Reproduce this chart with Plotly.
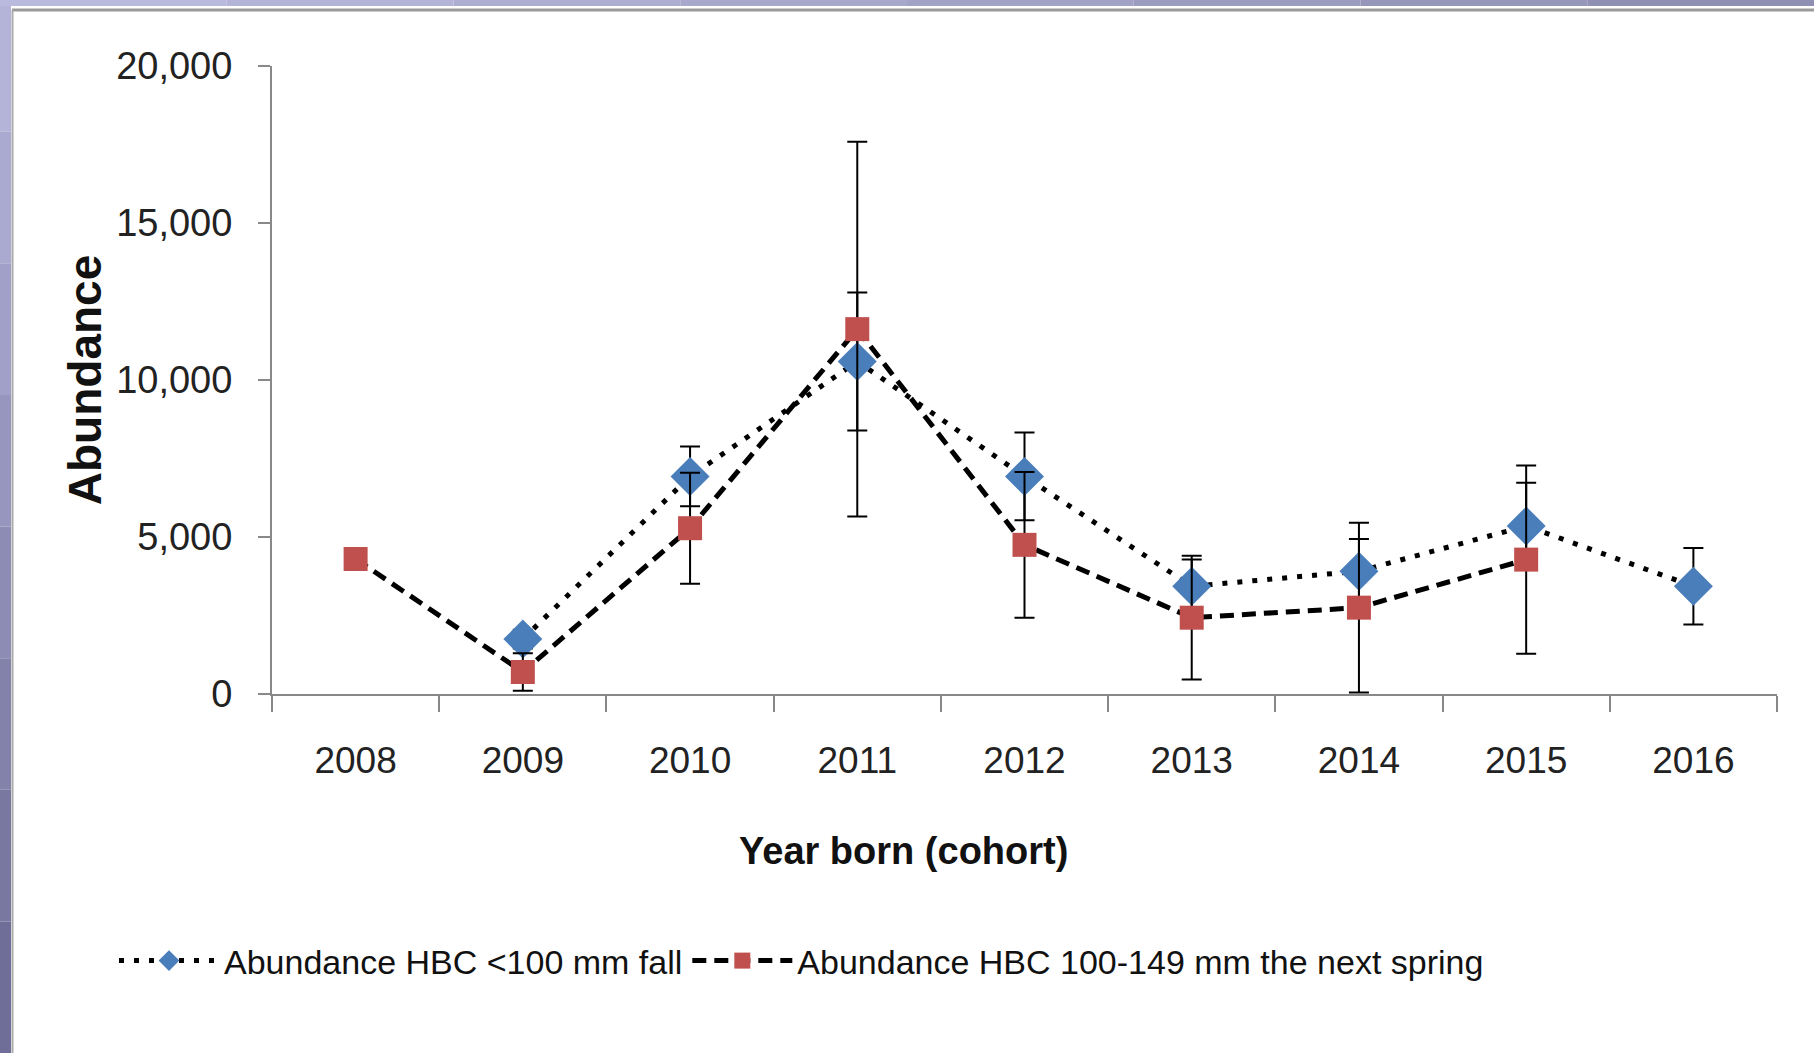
import plotly.graph_objects as go

# ---- data ----
years = ["2008", "2009", "2010", "2011", "2012", "2013", "2014", "2015", "2016"]

fall_years = ["2009", "2010", "2011", "2012", "2013", "2014", "2015", "2016"]
fall_values = [1750, 6930, 10590, 6930, 3430, 3910, 5350, 3430]
fall_errors = [300, 950, 2200, 1400, 850, 1030, 1380, 1220]

spring_years = ["2008", "2009", "2010", "2011", "2012", "2013", "2014", "2015"]
spring_values = [4300, 700, 5280, 11620, 4750, 2430, 2750, 4280]
spring_errors = [0, 600, 1770, 5970, 2320, 1970, 2700, 3000]

y_ticks = [0, 5000, 10000, 15000, 20000]

fall_name = "Abundance HBC <100 mm fall"
spring_name = "Abundance HBC 100-149 mm the next spring"
x_title = "Year born (cohort)"
y_title = "Abundance"

# ---- layout geometry ----
W, H = 1814, 1053
L, R, T, B = 272, 37, 66, 359
PW, PH = W - L - R, H - T - B

def px2x(px):
    return (px - L) / PW

def px2y(py):
    return (H - B - py) / PH

FONT = "Liberation Sans, Arial, sans-serif"

fig = go.Figure()

fig.add_trace(go.Scatter(
    x=fall_years, y=fall_values, name=fall_name, mode="lines+markers",
    line=dict(color="black", width=5, dash="5px,10px"),
    marker=dict(symbol="diamond", size=30, color="#4a7ebb"),
    error_y=dict(type="data", array=fall_errors, visible=True,
                 color="black", thickness=2, width=10),
))
fig.add_trace(go.Scatter(
    x=spring_years, y=spring_values, name=spring_name, mode="lines+markers",
    line=dict(color="black", width=5, dash="14px,8px"),
    marker=dict(symbol="square", size=24, color="#c0504d"),
    error_y=dict(type="data", array=spring_errors, visible=True,
                 color="black", thickness=2, width=10),
))

# decorative slide frame
shapes = []
left_cols = ["#b4b4d8", "#aaaad0", "#a0a0c8", "#9696be", "#8c8cb4", "#8282aa", "#7878a0", "#6e6e98"]
n = len(left_cols)
for i, c in enumerate(left_cols):
    y0 = i * H / n
    y1 = (i + 1) * H / n
    shapes.append(dict(type="rect", xref="paper", yref="paper", layer="below",
                       x0=px2x(0), x1=px2x(11), y0=px2y(y1), y1=px2y(y0),
                       fillcolor=c, line=dict(width=0)))
top_cols = ["#babade", "#b4b4d8", "#aeaed2", "#a8a8cc", "#a2a2c6", "#9c9cc0", "#9696ba", "#9090b4"]
n = len(top_cols)
for i, c in enumerate(top_cols):
    x0 = i * W / n
    x1 = (i + 1) * W / n
    shapes.append(dict(type="rect", xref="paper", yref="paper", layer="below",
                       x0=px2x(x0), x1=px2x(x1), y0=px2y(6), y1=px2y(0),
                       fillcolor=c, line=dict(width=0)))
shapes.append(dict(type="line", xref="paper", yref="paper", layer="below",
                   x0=px2x(12), x1=px2x(W), y0=px2y(10), y1=px2y(10),
                   line=dict(color="#9a9a9a", width=3)))
shapes.append(dict(type="line", xref="paper", yref="paper", layer="below",
                   x0=px2x(12.5), x1=px2x(12.5), y0=px2y(10), y1=px2y(H),
                   line=dict(color="#aaaaaa", width=2)))

fig.update_layout(
    width=W, height=H,
    margin=dict(l=L, r=R, t=T, b=B, pad=0),
    paper_bgcolor="white", plot_bgcolor="white",
    showlegend=True,
    legend=dict(orientation="h", x=px2x(114), xanchor="left",
                y=px2y(961), yanchor="middle",
                font=dict(family=FONT, size=34, color="#111111"),
                itemwidth=100, tracegroupgap=0, bgcolor="rgba(0,0,0,0)"),
    shapes=shapes,
    annotations=[dict(text="<b>" + x_title + "</b>", xref="paper", yref="paper",
                      x=px2x(903), y=px2y(851), xanchor="center", yanchor="middle",
                      showarrow=False,
                      font=dict(family=FONT, size=38, color="#111111"))],
)

fig.update_xaxes(
    type="category", categoryorder="array", categoryarray=years,
    range=[-0.5, len(years) - 0.5],
    tickson="boundaries", ticks="outside", ticklen=16, tickwidth=2, tickcolor="#888888",
    showline=True, linecolor="#888888", linewidth=2, showgrid=False, zeroline=False,
    tickfont=dict(family=FONT, size=37, color="#222222"),
    ticklabelstandoff=33,
)
fig.update_yaxes(
    range=[0, 20000], tickvals=y_ticks, tickformat=",",
    ticks="outside", ticklen=12, tickwidth=2, tickcolor="#888888",
    showline=True, linecolor="#888888", linewidth=2, showgrid=False, zeroline=False,
    tickfont=dict(family=FONT, size=38, color="#222222"),
    ticklabelstandoff=18,
    title=dict(text="<b>" + y_title + "</b>", standoff=0,
               font=dict(family=FONT, size=46, color="#111111")),
)

fig.write_html("out.html")
